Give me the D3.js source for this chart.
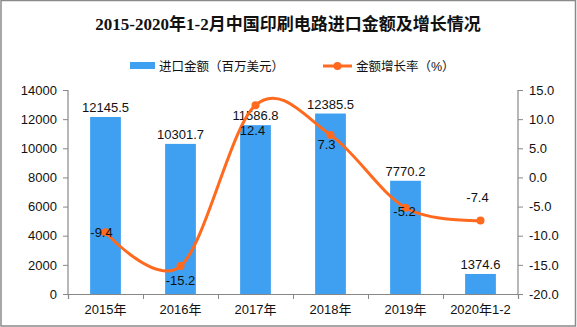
<!DOCTYPE html>
<html><head><meta charset="utf-8">
<script src="https://cdn.jsdelivr.net/npm/d3@7"></script>
<style>
html,body{margin:0;padding:0;background:#fff;}
svg{display:block;}
</style></head>
<body>
<script>
const categories = ["2015年","2016年","2017年","2018年","2019年","2020年1-2"];
const importValues = [12145.5, 10301.7, 11586.8, 12385.5, 7770.2, 1374.6];
const growthRates = [-9.4, -15.2, 12.4, 7.3, -5.2, -7.4];
const leftTicks = [0,2000,4000,6000,8000,10000,12000,14000];
const rightTicks = [-20,-15,-10,-5,0,5,10,15];
const titleText = "2015-2020年1-2月中国印刷电路进口金额及增长情况";
const legendBar = "进口金额（百万美元）";
const legendLine = "金额增长率（%）";

const W = 577, H = 327;
const m = {left:68, right:518, top:90, bottom:294};
const svg = d3.select("body").append("svg").attr("width",W).attr("height",H);

svg.append("rect").attr("x",1).attr("y",0.5).attr("width",W-2.5).attr("height",H-1.5)
  .attr("fill","#fff").attr("stroke","#8a8a8a").attr("stroke-width",1.5);

const numFont = "'Liberation Sans', Arial, sans-serif";
const cjkFont = "'Liberation Sans','Noto Sans CJK SC', sans-serif";

svg.append("text").attr("x",288).attr("y",30).attr("text-anchor","middle")
  .attr("font-family","'Liberation Serif','Noto Sans CJK SC',serif").attr("font-weight","bold")
  .attr("font-size",17).attr("fill","#111").text(titleText);

// legend
svg.append("rect").attr("x",130).attr("y",62).attr("width",25).attr("height",7).attr("fill","#3f9ff0");
svg.append("text").attr("x",159).attr("y",70.5).attr("font-family",cjkFont).attr("font-size",12.5).attr("fill","#111").text(legendBar);
svg.append("line").attr("x1",323).attr("x2",352).attr("y1",66).attr("y2",66).attr("stroke","#ff6a1f").attr("stroke-width",3);
svg.append("circle").attr("cx",337.5).attr("cy",66).attr("r",4).attr("fill","#ff6a1f");
svg.append("text").attr("x",356).attr("y",70.5).attr("font-family",cjkFont).attr("font-size",12.5).attr("fill","#111").text(legendLine);

const x = d3.scaleBand().domain(categories).range([m.left,m.right]).paddingInner(0.59).paddingOuter(0.295);
const yL = d3.scaleLinear().domain([0,14000]).range([m.bottom,m.top]);
const yR = d3.scaleLinear().domain([-20,15]).range([m.bottom,m.top]);

// bars
svg.selectAll(".bar").data(importValues).join("rect")
  .attr("x",(d,i)=>x(categories[i])).attr("width",x.bandwidth())
  .attr("y",d=>yL(d)).attr("height",d=>m.bottom-yL(d)).attr("fill","#3f9ff0");

// axes
const axisColor = "#888";
const gL = svg.append("g").attr("transform",`translate(${m.left},0)`)
  .call(d3.axisLeft(yL).tickValues(leftTicks).tickSize(5).tickPadding(6).tickFormat(d3.format("d")));
const gR = svg.append("g").attr("transform",`translate(${m.right},0)`)
  .call(d3.axisRight(yR).tickValues(rightTicks).tickSize(5).tickPadding(6).tickFormat(d3.format(".1f")));
const xb = d3.scaleLinear().domain([0,categories.length]).range([m.left,m.right]);
const gX = svg.append("g").attr("transform",`translate(0,${m.bottom})`)
  .call(d3.axisBottom(xb).tickValues(d3.range(categories.length+1)).tickSize(5).tickFormat(""));
[gL,gR,gX].forEach(g=>{
  g.select(".domain").attr("stroke",axisColor).attr("stroke-width",1.2);
  g.selectAll(".tick line").attr("stroke",axisColor);
  g.selectAll(".tick text").attr("font-family",numFont).attr("font-size",13).attr("fill","#111");
});
gL.select(".domain").attr("d",`M-0,${m.top}V${m.bottom}`);
gR.select(".domain").attr("d",`M0,${m.top}V${m.bottom}`);
gR.selectAll(".tick text").text(d=>d3.format(".1f")(d).replace("−","-"));
gL.selectAll(".tick text").text(d=>String(d));

svg.selectAll(".xl").data(categories).join("text")
  .attr("x",d=>x(d)+x.bandwidth()/2).attr("y",314).attr("text-anchor","middle")
  .attr("font-family",cjkFont).attr("font-size",13).attr("fill","#111").text(d=>d);

// bar labels
svg.selectAll(".bl").data(importValues).join("text")
  .attr("x",(d,i)=>x(categories[i])+x.bandwidth()/2).attr("y",d=>yL(d)-5).attr("text-anchor","middle")
  .attr("font-family",numFont).attr("font-size",13).attr("fill","#111").text(d=>d.toFixed(1));

// line
const cx = i => x(categories[i]) + x.bandwidth()/2;
const line = d3.line().x((d,i)=>cx(i)).y(d=>yR(d)).curve(d3.curveCardinal.tension(0));
svg.append("path").datum(growthRates).attr("d",line).attr("fill","none")
  .attr("stroke","#ff6a1f").attr("stroke-width",3);
svg.selectAll(".pt").data(growthRates).join("circle")
  .attr("cx",(d,i)=>cx(i)).attr("cy",d=>yR(d)).attr("r",4).attr("fill","#ff6a1f");

// growth labels (placement offsets relative to point)
const labelShift = [[-4,5],[0,19],[-3,30],[-4,14],[-1,8],[-3,-19]];
svg.selectAll(".gl").data(growthRates).join("text")
  .attr("x",(d,i)=>cx(i)+labelShift[i][0]).attr("y",(d,i)=>yR(d)+labelShift[i][1]).attr("text-anchor","middle")
  .attr("font-family",numFont).attr("font-size",13).attr("fill","#111").text(d=>d.toFixed(1));
</script>
</body></html>
